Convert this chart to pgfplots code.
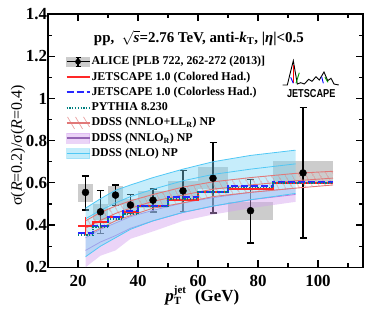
\documentclass[border=0pt]{standalone}
\usepackage{fontspec}
\setmainfont{Liberation Serif}
\setsansfont{Liberation Sans}
\usepackage{pgfplots}
\pgfplotsset{compat=1.18}
\usetikzlibrary{patterns.meta}
\definecolor{nlofill}{RGB}{120,212,245}
\definecolor{noline}{RGB}{80,200,245}
\definecolor{purfill}{RGB}{210,160,238}
\definecolor{purline}{RGB}{185,125,225}
\definecolor{hatch}{RGB}{225,120,120}
\definecolor{myred}{RGB}{255,40,40}
\definecolor{myblue}{RGB}{40,40,255}
\definecolor{myteal}{RGB}{0,128,128}
\begin{document}
\begin{tikzpicture}
\begin{axis}[
  name=ax, at={(0,0)}, anchor=south west,
  width=315bp, height=253.3bp, scale only axis,
  xmin=10, xmax=115, ymin=0.2, ymax=1.4,
  xtick={20,40,60,80,100}, minor xtick={10,30,50,70,90,110},
  ytick={0.2,0.4,0.6,0.8,1,1.2,1.4}, minor ytick={0.3,0.5,0.7,0.9,1.1,1.3},
  tick align=inside, tick pos=both,
  major tick length=7bp, minor tick length=4bp,
  tick style={black, line width=1.2bp},
  axis line style={line width=1.6bp},
  /pgf/number format/assume math mode=true,
  ticklabel style={font=\bfseries\fontsize{17}{17}\selectfont},
  yticklabel style={xshift=2.5bp},
  xticklabel style={yshift=-4bp},
  xlabel={\bfseries $\hbox{\itshape p}^{\hbox{\fontsize{11}{11}\selectfont\bfseries jet}}_{\hbox{\fontsize{11}{11}\selectfont\bfseries T}}$\ \ (GeV)},
  xlabel style={font=\fontsize{17}{17}\selectfont, at={(axis description cs:0.49,-0.135)}, anchor=base},
  ylabel={σ(\textit{R}=0.2)/σ(\textit{R}=0.4)},
  ylabel style={font=\fontsize{16}{16}\selectfont, at={(axis description cs:-0.095,0.48)}, anchor=center},
  legend style={draw=none, fill=none, at={(0.055,0.84)}, anchor=north west,
    font=\bfseries\fontsize{12}{14}\selectfont, row sep=1.3bp, inner sep=0pt,
    nodes={inner sep=1bp, text height=9bp, text depth=3bp}},
  legend cell align=left,
]
% legend entries
\addlegendimage{legend image code/.code={
  \fill[gray!40] (0bp,-4.5bp) rectangle (23bp,4.5bp);
  \draw[black,line width=1.4bp] (0bp,0bp)--(23bp,0bp);
  \draw[black,line width=1.4bp] (11.5bp,-4.5bp)--(11.5bp,4.5bp);
  \draw[black,line width=1.2bp] (9bp,4.5bp)--(14bp,4.5bp) (9bp,-4.5bp)--(14bp,-4.5bp);
  \fill[black] (11.5bp,0bp) circle (2.6bp);}}
\addlegendentry{ALICE [PLB 722, 262-272 (2013)]}
\addlegendimage{legend image code/.code={\draw[myred,line width=2bp] (0bp,0bp)--(23bp,0bp);}}
\addlegendentry{JETSCAPE 1.0 (Colored Had.)}
\addlegendimage{legend image code/.code={\draw[myblue,line width=2bp,dash pattern=on 7bp off 3bp] (0bp,0bp)--(23bp,0bp);}}
\addlegendentry{JETSCAPE 1.0 (Colorless Had.)}
\addlegendimage{legend image code/.code={\draw[myteal,line width=1.8bp,dash pattern=on 1.2bp off 1.6bp] (0bp,0bp)--(23bp,0bp);}}
\addlegendentry{PYTHIA 8.230}
\addlegendimage{legend image code/.code={
  \draw[hatch!70,line width=0.7bp] (1bp,6bp)--(8bp,-6bp) (9bp,6bp)--(16bp,-6bp) (17bp,6bp)--(23bp,-4bp);
  \draw[hatch,line width=1.6bp] (0bp,0bp)--(23bp,0bp);}}
\addlegendentry{DDSS (NNLO+LL\textsubscript{R}) NP}
\addlegendimage{legend image code/.code={
  \fill[purfill,opacity=0.45] (0bp,-5bp) rectangle (23bp,5bp);
  \draw[purline!80!black,line width=1.6bp] (0bp,0bp)--(23bp,0bp);}}
\addlegendentry{DDSS (NNLO\textsubscript{R}) NP}
\addlegendimage{legend image code/.code={
  \fill[nlofill,opacity=0.45] (0bp,-5bp) rectangle (23bp,5bp);
  \draw[noline,line width=1.6bp] (0bp,0bp)--(23bp,0bp);}}
\addlegendentry{DDSS (NLO) NP}

% systematic boxes
\addplot[fill=gray!40, draw=none, forget plot] coordinates {(20,0.507)(25,0.507)(25,0.597)(20,0.597)};
\addplot[fill=gray!40, draw=none, forget plot] coordinates {(25,0.425)(30,0.425)(30,0.500)(25,0.500)};
\addplot[fill=gray!40, draw=none, forget plot] coordinates {(30,0.495)(35,0.495)(35,0.585)(30,0.585)};
\addplot[fill=gray!40, draw=none, forget plot] coordinates {(35,0.465)(40,0.465)(40,0.525)(35,0.525)};
\addplot[fill=gray!40, draw=none, forget plot] coordinates {(40,0.480)(50,0.480)(50,0.560)(40,0.560)};
\addplot[fill=gray!40, draw=none, forget plot] coordinates {(50,0.515)(60,0.515)(60,0.610)(50,0.610)};
\addplot[fill=gray!40, draw=none, forget plot] coordinates {(60,0.570)(70,0.570)(70,0.675)(60,0.675)};
\addplot[fill=gray!40, draw=none, forget plot] coordinates {(70,0.425)(85,0.425)(85,0.510)(70,0.510)};
\addplot[fill=gray!40, draw=none, forget plot] coordinates {(85,0.600)(105,0.600)(105,0.705)(85,0.705)};

% ALICE data
\addplot[only marks, mark=*, mark size=3.5bp, black, forget plot,
  error bars/.cd, y dir=both, y explicit,
  error bar style={line width=1.4bp, black},
  error mark options={rotate=90, mark size=3.5bp, line width=1.4bp}]
coordinates {
(22.5,0.555) += (0,0.078) -= (0,0.084)
(27.5,0.463) += (0,0.102) -= (0,0.103)
(32.5,0.542) += (0,0.047) -= (0,0.049)
(37.5,0.495) += (0,0.050) -= (0,0.040)
(45,0.518) += (0,0.052) -= (0,0.056)
(55,0.562) += (0,0.098) -= (0,0.099)
(65,0.622) += (0,0.168) -= (0,0.165)
(77.5,0.468) += (0,0.149) -= (0,0.152)
(95,0.647) += (0,0.310) -= (0,0.309)
};

% DDSS NNLO_R band
\addplot[fill=purfill, fill opacity=0.45, draw=none, forget plot] coordinates {
(22.5,0.34)(27.5,0.38)(32.5,0.41)(37.5,0.44)(45,0.47)(55,0.505)(65,0.53)(77.5,0.555)(92.5,0.575)
(92.5,0.51)(77.5,0.48)(65,0.45)(55,0.42)(45,0.37)(37.5,0.335)(32.5,0.28)(27.5,0.255)(22.5,0.20)};
\addplot[purline, line width=0.8bp, forget plot] coordinates {(22.5,0.34)(27.5,0.38)(32.5,0.41)(37.5,0.44)(45,0.47)(55,0.505)(65,0.53)(77.5,0.555)(92.5,0.575)};
\addplot[purline, line width=0.8bp, forget plot] coordinates {(22.5,0.28)(27.5,0.32)(32.5,0.35)(37.5,0.385)(45,0.42)(55,0.46)(65,0.49)(77.5,0.52)(92.5,0.545)};

% DDSS NLO band
\addplot[fill=nlofill, fill opacity=0.42, draw=none, forget plot] coordinates {
(22.5,0.48)(27.5,0.525)(32.5,0.565)(37.5,0.59)(45,0.625)(55,0.665)(65,0.70)(77.5,0.73)(92.5,0.755)
(92.5,0.55)(77.5,0.52)(65,0.49)(55,0.46)(45,0.42)(37.5,0.38)(32.5,0.34)(27.5,0.30)(22.5,0.25)};
\addplot[noline, line width=0.8bp, forget plot] coordinates {(22.5,0.48)(27.5,0.525)(32.5,0.565)(37.5,0.59)(45,0.625)(55,0.665)(65,0.70)(77.5,0.73)(92.5,0.755)};
\addplot[noline, line width=0.8bp, forget plot] coordinates {(22.5,0.43)(27.5,0.47)(32.5,0.505)(37.5,0.535)(45,0.57)(55,0.61)(65,0.64)(77.5,0.665)(92.5,0.69)};
\addplot[noline, line width=0.8bp, forget plot] coordinates {(22.5,0.25)(27.5,0.30)(32.5,0.34)(37.5,0.38)(45,0.42)(55,0.46)(65,0.49)(77.5,0.52)(92.5,0.55)};

% DDSS NNLO+LL_R hatched band
\addplot[pattern={Lines[angle=-60,distance=6bp,line width=0.8bp]}, pattern color=hatch, draw=none, forget plot] coordinates {
(22.5,0.42)(27.5,0.46)(32.5,0.49)(37.5,0.515)(45,0.545)(55,0.58)(65,0.605)(77.5,0.625)(92.5,0.645)(105,0.655)
(105,0.59)(92.5,0.575)(77.5,0.555)(65,0.535)(55,0.505)(45,0.48)(37.5,0.445)(32.5,0.42)(27.5,0.385)(22.5,0.35)};
\addplot[hatch, line width=0.9bp, forget plot] coordinates {(22.5,0.42)(27.5,0.46)(32.5,0.49)(37.5,0.515)(45,0.545)(55,0.58)(65,0.605)(77.5,0.625)(92.5,0.645)(105,0.655)};
\addplot[hatch, line width=0.9bp, forget plot] coordinates {(22.5,0.385)(27.5,0.4225)(32.5,0.455)(37.5,0.48)(45,0.5125)(55,0.5425)(65,0.57)(77.5,0.59)(92.5,0.61)(105,0.6225)};
\addplot[hatch, line width=0.9bp, forget plot] coordinates {(22.5,0.35)(27.5,0.385)(32.5,0.42)(37.5,0.445)(45,0.48)(55,0.505)(65,0.535)(77.5,0.555)(92.5,0.575)(105,0.59)};

% JETSCAPE / PYTHIA steps
\addplot[const plot, myred, line width=2bp, forget plot] coordinates {(20,0.397)(25,0.416)(30,0.436)(35,0.463)(40,0.491)(50,0.521)(60,0.557)(70,0.570)(85,0.600)(105,0.600)};
\addplot[myred, line width=1.5bp, forget plot] coordinates {(22.5,0.353)(22.5,0.440)};
\addplot[const plot, myblue, line width=2bp, dash pattern=on 7bp off 3bp, forget plot] coordinates {(20,0.364)(25,0.397)(30,0.436)(35,0.468)(40,0.491)(50,0.531)(60,0.557)(70,0.586)(85,0.602)(105,0.602)};
\addplot[const plot, myteal, line width=1.8bp, dash pattern=on 1.2bp off 1.6bp, forget plot] coordinates {(20,0.353)(25,0.390)(30,0.427)(35,0.452)(40,0.488)(50,0.525)(60,0.557)(70,0.578)(85,0.600)(105,0.600)};

\node[font=\bfseries\fontsize{15}{15}\selectfont] at (rel axis cs:0.479,0.905)
  {pp,\ \ $\sqrt{\hbox{\bfseries\itshape s}}$=2.76 TeV, anti-\textit{k}\textsubscript{T}, |\textit{η}|<0.5};
\end{axis}
% JETSCAPE logo (decoration)
\begin{scope}[x=1bp,y=1bp]
\draw[black, line width=0.9bp] (234.7,182.3)--(239.3,182.3)--(245.3,206.6)--(249.3,183.3)--(252.7,184.6)--(256.3,183.3)--(260.7,188)--(264,186)--(268,190.6)--(271.3,187.3)--(276,195.3)--(279.7,186.6)--(283,189)--(286,183.3)--(290.7,182.3);
\draw[red, line width=0.9bp] (245.3,202.3)--(245.3,184);
\draw[green!60!black, line width=0.9bp] (251.3,194.6)--(248,184);
\draw[blue, line width=0.9bp] (242.7,190)--(245.3,184);
\draw[blue, line width=0.9bp] (273.7,190.6)--(275.3,184);
\draw[green!60!black, line width=0.9bp] (277,190)--(280,185);
\node[font=\sffamily\bfseries\fontsize{11.5}{11.5}\selectfont, xscale=0.8, inner sep=0pt] at (263.2,174) {JETSCAPE};
\end{scope}
\pgfresetboundingbox
\path (-48bp,-51.7bp) rectangle (326bp,267.3bp);
\end{tikzpicture}
\end{document}
